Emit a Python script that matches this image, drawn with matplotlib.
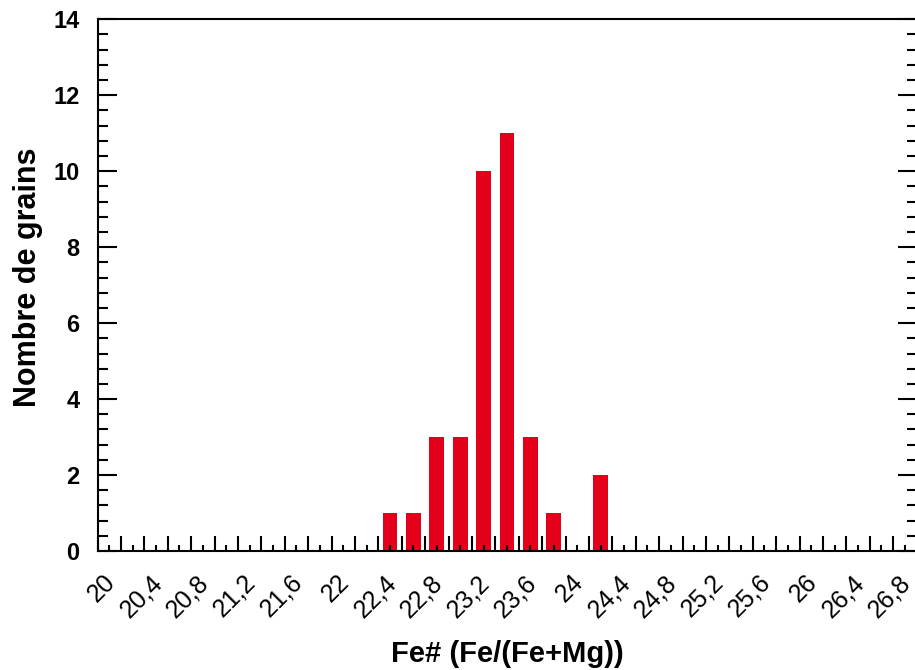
import matplotlib.pyplot as plt
from matplotlib.ticker import MultipleLocator, FuncFormatter
from matplotlib.transforms import ScaledTranslation

# bin centres of Fe# (in %) and number of grains per bin
bin_centers = [22.5, 22.7, 22.9, 23.1, 23.3, 23.5, 23.7, 23.9, 24.3]
counts = [1, 1, 3, 3, 10, 11, 3, 1, 2]

x_label = "Fe# (Fe/(Fe+Mg))"
y_label = "Nombre de grains"

plt.rcParams['font.family'] = ['Liberation Sans', 'DejaVu Sans']

fig = plt.figure(figsize=(9.15, 6.7), dpi=100)
ax = fig.add_axes([97.5 / 915, 1 - 551 / 670, 819 / 915, (551 - 19.3) / 670])

ax.bar(bin_centers, counts, width=0.125, color='#E3001B', linewidth=0)

ax.set_xlim(20, 27.0)
ax.set_ylim(0, 14)

ax.xaxis.set_major_locator(MultipleLocator(0.2))
ax.xaxis.set_minor_locator(MultipleLocator(0.1))
ax.yaxis.set_major_locator(MultipleLocator(2))
ax.yaxis.set_minor_locator(MultipleLocator(0.4))


def fmt_x(v, pos):
    # label only every 0.4, with a decimal comma
    k = round((v - 20) / 0.2)
    if k % 2:
        return ''
    s = f"{v:.1f}".rstrip('0').rstrip('.')
    return s.replace('.', ',')


ax.xaxis.set_major_formatter(FuncFormatter(fmt_x))
ax.yaxis.set_major_formatter(FuncFormatter(lambda v, p: f"{v:.0f}"))

for s in ax.spines.values():
    s.set_linewidth(1.5)

ax.tick_params(axis='x', which='major', direction='in', length=11, width=1.5,
               labelsize=18, pad=20, bottom=True, top=False)
ax.tick_params(axis='x', which='minor', direction='in', length=4, width=1.5,
               bottom=True, top=False)
ax.tick_params(axis='y', which='major', direction='in', length=13.5, width=1.5,
               labelsize=17, pad=13, left=True, right=True)
ax.tick_params(axis='y', which='minor', direction='in', length=7, width=1.5,
               left=True, right=True)

# rotated labels hang from their right end, a little right of the tick
shift = ScaledTranslation(14 / 100, 0, fig.dpi_scale_trans)
for lab in ax.get_xticklabels():
    lab.set_rotation(45)
    lab.set_rotation_mode('anchor')
    lab.set_ha('right')
    lab.set_va('center')
    lab.set_transform(lab.get_transform() + shift)
for lab in ax.get_yticklabels():
    lab.set_fontweight('bold')

ax.set_xlabel(x_label, fontsize=21, fontweight='bold', labelpad=13)
ax.set_ylabel(y_label, fontsize=22, fontweight='bold')
ax.yaxis.set_label_coords(-0.067, 0.514)

fig.savefig('out.png', dpi=100)
